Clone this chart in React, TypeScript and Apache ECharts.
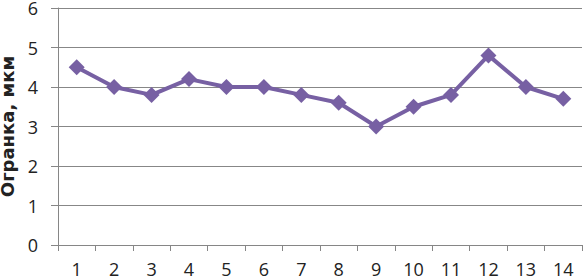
import React, { useEffect, useRef } from "react";
import * as echarts from "echarts";

const categories = ["1", "2", "3", "4", "5", "6", "7", "8", "9", "10", "11", "12", "13", "14"];
const values = [4.5, 4.0, 3.8, 4.2, 4.0, 4.0, 3.8, 3.6, 3.0, 3.5, 3.8, 4.8, 4.0, 3.7];
const yTitle = "Огранка, мкм";

export default function App() {
  const ref = useRef<HTMLDivElement>(null);
  useEffect(() => {
    const chart = echarts.init(ref.current!, null, { renderer: "svg" });
    chart.setOption({
      animation: false,
      grid: { left: 58, right: 1, top: 8, bottom: 35, containLabel: false, outerBoundsMode: "none" },
      xAxis: {
        type: "category",
        data: categories,
        boundaryGap: true,
        axisLine: { lineStyle: { color: "#868686", width: 1 } },
        axisTick: { show: true, length: 6, lineStyle: { color: "#868686" } },
        axisLabel: { fontFamily: "Open Sans", fontSize: 18, color: "#222", margin: 15 },
      },
      yAxis: {
        type: "value",
        min: 0,
        max: 6,
        interval: 1,
        name: yTitle,
        nameLocation: "middle",
        nameGap: 35,
        nameTextStyle: { fontFamily: "DejaVu Sans", fontSize: 18, fontWeight: "bold", color: "#222" },
        axisLine: { show: true, lineStyle: { color: "#868686", width: 1 } },
        axisTick: { show: true, length: 7, lineStyle: { color: "#868686" } },
        axisLabel: { fontFamily: "Open Sans", fontSize: 18, color: "#222", margin: 20 },
        splitLine: { lineStyle: { color: "#878787", width: 1 } },
      },
      series: [
        {
          type: "line",
          data: values,
          symbol: "diamond",
          symbolSize: 16,
          lineStyle: { color: "#7760A3", width: 4 },
          itemStyle: { color: "#7760A3" },
        },
      ],
    });
    return () => chart.dispose();
  }, []);
  return <div ref={ref} style={{ width: 583, height: 280, position: "absolute", left: 0, top: 0 }} />;
}
